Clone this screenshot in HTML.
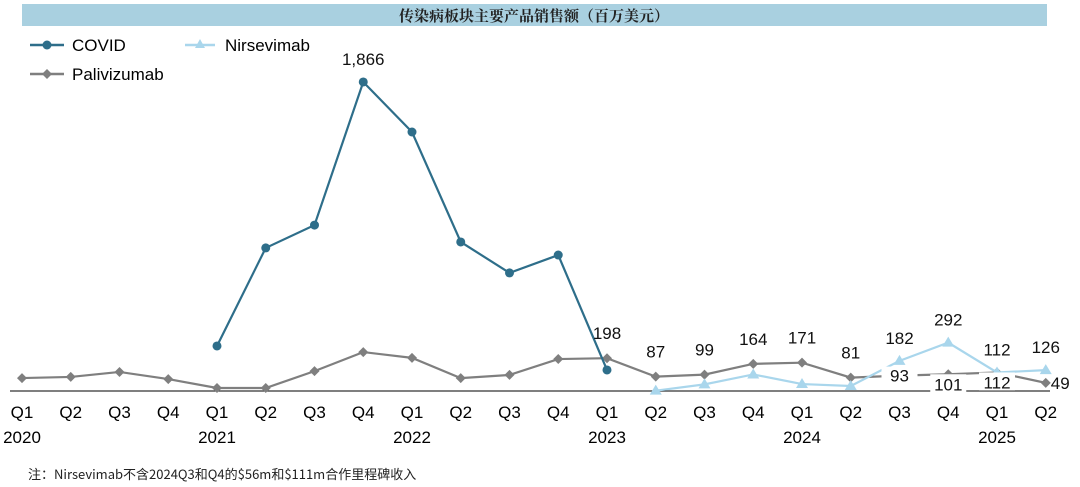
<!DOCTYPE html>
<html><head><meta charset="utf-8"><style>
body{margin:0;background:#fff;}
svg{display:block;font-family:"Liberation Sans","Noto Sans CJK SC",sans-serif;}
</style></head><body>
<svg id="c" width="1080" height="487">
<rect x="22" y="4" width="1025" height="22" fill="#a9d0e0"/>
<text x="534" y="21" text-anchor="middle" font-size="15" font-family="'Noto Serif CJK SC',serif" font-weight="bold" fill="#222">传染病板块主要产品销售额（百万美元）</text>
<g>
<line x1="30" y1="45" x2="64" y2="45" stroke="#2e6e8a" stroke-width="2.5"/><circle cx="47" cy="45" r="4.5" fill="#2e6e8a"/>
<text x="72" y="51" font-size="17">COVID</text>
<line x1="185" y1="45" x2="215" y2="45" stroke="#a9d6ec" stroke-width="2.5"/><path d="M200 39 L205 48 L195 48Z" fill="#a9d6ec"/>
<text x="225" y="51" font-size="17">Nirsevimab</text>
<line x1="30" y1="74" x2="64" y2="74" stroke="#7f7f7f" stroke-width="2.5"/><path d="M47 69 L52 74 L47 79 L42 74Z" fill="#7f7f7f"/>
<text x="72" y="80" font-size="17">Palivizumab</text>
</g>
<g id="plot"></g>
<text x="28" y="479" font-size="13" font-family="'Noto Sans CJK SC',sans-serif" fill="#222">注：Nirsevimab不含2024Q3和Q4的$56m和$111m合作里程碑收入</text>
</svg>
<script>
const quarters=["Q1","Q2","Q3","Q4","Q1","Q2","Q3","Q4","Q1","Q2","Q3","Q4","Q1","Q2","Q3","Q4","Q1","Q2","Q3","Q4","Q1","Q2"];
const years=["2020","","","","2021","","","","2022","","","","2023","","","","2024","","","","2025",""];
const covid=[null,null,null,null,272,864,1002,1866,1564,900,713,821,127,null,null,null,null,null,null,null,null,null];
const palivizumab=[78,85,115,72,18,18,120,235,200,78,97,193,198,87,99,164,171,81,93,101,112,49];
const nirsevimab=[null,null,null,null,null,null,null,null,null,null,null,null,null,2,40,100,42,30,182,292,112,126];
const NS="http://www.w3.org/2000/svg";
const g=document.getElementById('plot');
const X=i=>22+i*48.75, Y=v=>391-v*0.1656;
function mk(t,a){const e=document.createElementNS(NS,t);for(const k in a)e.setAttribute(k,a[k]);g.appendChild(e);return e;}
const axis=mk('line',{x1:10,y1:391,x2:1050,y2:391,stroke:'#333','stroke-width':1.2});


quarters.forEach((q,i)=>{
 const t=mk('text',{x:X(i),y:418,'text-anchor':'middle','font-size':17});t.textContent=q;
 
 
 if(years[i]){const y=mk('text',{x:X(i),y:443,'text-anchor':'middle','font-size':17});y.textContent=years[i];
 
 }
});
function series(arr,color,name,marker){
 const pts=[];arr.forEach((v,i)=>{if(v!=null)pts.push([X(i),Y(v)]);});
 const p=mk('polyline',{points:pts.map(p=>p.join(',')).join(' '),fill:'none',stroke:color,'stroke-width':2.2});
 
 
 pts.forEach(([x,y])=>{let m;
  if(marker==='c')m=mk('circle',{cx:x,cy:y,r:4.5,fill:color});
  else if(marker==='d')m=mk('path',{d:`M${x} ${y-5}L${x+5} ${y}L${x} ${y+5}L${x-5} ${y}Z`,fill:color});
  else m=mk('path',{d:`M${x} ${y-6}L${x+6} ${y+4}L${x-6} ${y+4}Z`,fill:color});
  
  
 });
}
series(palivizumab,'#7f7f7f','palivizumab','d');
series(nirsevimab,'#a9d6ec','nirsevimab','t');
series(covid,'#2e6e8a','covid','c');
function lab(x,y,s,anchor){const t=mk('text',{x:x,y:y,'text-anchor':anchor||'middle','font-size':17,fill:'#111'});t.textContent=s;
 
 }
lab(X(7),Y(covid[7])-17,(covid[7]).toLocaleString('en-US'));
for(let i=12;i<=17;i++)lab(X(i),Y(palivizumab[i])-19,palivizumab[i]);
for(let i=18;i<=20;i++){const x=X(i)+(i===18?0:0);mk('rect',{x:x-18,y:Y(palivizumab[i])+(i===18?-9:0),width:36,height:18,fill:'#fff'});lab(x,Y(palivizumab[i])+(i===18?6:16),palivizumab[i]);}
lab(X(21)+5,Y(palivizumab[21])+6,palivizumab[21],'start');
for(let i=18;i<=21;i++)lab(X(i),Y(nirsevimab[i])-17,nirsevimab[i]);
</script>
</body></html>
